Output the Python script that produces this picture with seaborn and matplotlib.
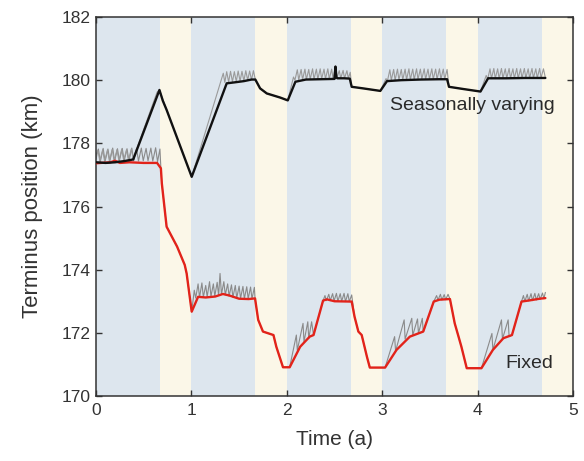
import matplotlib
matplotlib.use("Agg")
import matplotlib.pyplot as plt
import seaborn as sns
import pandas as pd

# Seasonal bands: winter (blue) and summer (cream) periods, in years
winter_start = [0.0, 1.0, 2.0, 3.0, 4.0]
winter_end = [0.67, 1.67, 2.67, 3.67, 4.67]
summer_start = [0.67, 1.67, 2.67, 3.67, 4.67]
summer_end = [1.0, 2.0, 3.0, 4.0, 5.0]

# Seasonally varying run: smoothed terminus position (km)
sv_t = [0.00, 0.10, 0.20, 0.30, 0.39, 0.665, 0.70, 0.74, 1.003, 1.37, 1.45, 1.55,
        1.63, 1.67, 1.72, 1.79, 1.93, 2.01, 2.09, 2.20, 2.35, 2.50, 2.51, 2.52,
        2.53, 2.60, 2.66, 2.68, 2.80, 2.98, 3.05, 3.20, 3.40, 3.60, 3.68, 3.70,
        3.85, 4.03, 4.11, 4.30, 4.50, 4.71]
sv_v = [177.40, 177.38, 177.40, 177.44, 177.49, 179.69, 179.35, 179.06, 176.94, 179.90, 179.93, 179.97,
        180.02, 180.02, 179.74, 179.58, 179.45, 179.36, 179.95, 180.02, 180.03, 180.04, 180.43, 180.08,
        180.06, 180.06, 180.05, 179.79, 179.74, 179.66, 179.97, 180.00, 180.02, 180.03, 180.03, 179.79,
        179.72, 179.64, 180.06, 180.06, 180.07, 180.07]

# Seasonally varying run: unsmoothed calving cycles
sv_gray_t = [0.00, 0.02, 0.04, 0.07, 0.09, 0.12, 0.14, 0.17, 0.19, 0.22, 0.24, 0.27, 0.29, 0.32,
             0.34, 0.37, 0.39, 0.64, 0.665, 0.74, 1.003, 1.334, 1.35, 1.37, 1.39, 1.41, 1.43,
             1.45, 1.47, 1.49, 1.51, 1.53, 1.55, 1.57, 1.59, 1.61, 1.63, 1.65, 1.67, 1.72,
             1.79, 1.93, 2.01, 2.07, 2.085, 2.11, 2.125, 2.15, 2.165, 2.19, 2.205, 2.23, 2.245,
             2.27, 2.285, 2.31, 2.325, 2.35, 2.365, 2.39, 2.405, 2.43, 2.445, 2.47, 2.485,
             2.51, 2.525, 2.55, 2.565, 2.59, 2.605, 2.63, 2.645, 2.665, 2.68, 2.80, 2.98,
             3.04, 3.055, 3.08, 3.095, 3.12, 3.135, 3.16, 3.175, 3.20, 3.215, 3.24, 3.255,
             3.28, 3.295, 3.32, 3.335, 3.36, 3.375, 3.40, 3.415, 3.44, 3.455, 3.48, 3.495,
             3.52, 3.535, 3.56, 3.575, 3.60, 3.615, 3.64, 3.655, 3.68, 3.70, 3.85, 4.03,
             4.09, 4.105, 4.13, 4.145, 4.17, 4.185, 4.21, 4.225, 4.25, 4.265, 4.29, 4.305,
             4.33, 4.345, 4.37, 4.385, 4.41, 4.425, 4.45, 4.465, 4.49, 4.505, 4.53, 4.545,
             4.57, 4.585, 4.61, 4.625, 4.65, 4.665, 4.69, 4.71]
sv_gray_v = [177.50, 177.78, 177.44, 177.80, 177.43, 177.79, 177.44, 177.81, 177.44, 177.80, 177.45, 177.82, 177.46, 177.80,
             177.47, 177.82, 177.52, 179.62, 179.69, 179.06, 176.94, 180.22, 179.93, 180.27, 179.94, 180.28, 179.95,
             180.27, 179.96, 180.29, 179.97, 180.28, 179.98, 180.30, 180.00, 180.29, 180.01, 180.30, 180.02, 179.74,
             179.58, 179.45, 179.36, 180.10, 180.00, 180.33, 180.01, 180.34, 180.02, 180.35, 180.02, 180.34, 180.03,
             180.36, 180.03, 180.35, 180.03, 180.36, 180.04, 180.35, 180.04, 180.36, 180.04, 180.35, 180.04,
             180.45, 180.08, 180.30, 180.06, 180.31, 180.06, 180.30, 180.06, 180.25, 179.79, 179.74, 179.66,
             180.05, 179.98, 180.33, 180.00, 180.34, 180.00, 180.35, 180.01, 180.34, 180.01, 180.35, 180.02,
             180.36, 180.02, 180.35, 180.02, 180.36, 180.03, 180.35, 180.03, 180.36, 180.03, 180.35, 180.03,
             180.36, 180.03, 180.35, 180.03, 180.36, 180.03, 180.35, 180.03, 180.34, 179.79, 179.72, 179.64,
             180.15, 180.03, 180.36, 180.05, 180.37, 180.05, 180.36, 180.05, 180.37, 180.06, 180.36, 180.06,
             180.37, 180.06, 180.36, 180.06, 180.37, 180.06, 180.36, 180.07, 180.37, 180.07, 180.36, 180.07,
             180.37, 180.07, 180.36, 180.07, 180.37, 180.07, 180.36, 180.08]

# Fixed run: smoothed terminus position (km)
fx_t = [0.00, 0.15, 0.20, 0.25, 0.35, 0.50, 0.64, 0.68, 0.69, 0.74, 0.85, 0.93, 0.95, 1.003,
        1.07, 1.15, 1.25, 1.33, 1.40, 1.50, 1.60, 1.667, 1.70, 1.75, 1.86, 1.89, 1.96, 2.03,
        2.14, 2.24, 2.28, 2.38, 2.42, 2.50, 2.68, 2.71, 2.75, 2.785, 2.84, 2.87, 3.03, 3.15,
        3.29, 3.43, 3.54, 3.60, 3.71, 3.76, 3.80, 3.83, 3.886, 4.04, 4.16, 4.27, 4.36, 4.46,
        4.55, 4.65, 4.71]
fx_v = [177.37, 177.40, 177.45, 177.38, 177.40, 177.38, 177.38, 177.21, 176.73, 175.36, 174.73, 174.15, 173.88, 172.67,
        173.14, 173.12, 173.15, 173.23, 173.18, 173.08, 173.07, 173.09, 172.41, 172.04, 171.93, 171.56, 170.91, 170.91,
        171.56, 171.88, 171.93, 173.02, 173.06, 173.00, 172.99, 172.51, 172.04, 171.93, 171.24, 170.90, 170.90, 171.46,
        171.88, 172.04, 172.99, 173.05, 173.07, 172.30, 171.88, 171.56, 170.88, 170.88, 171.46, 171.83, 171.93, 172.99,
        173.03, 173.08, 173.10]

# Fixed run: unsmoothed calving cycles
fx_gray_t = [0.00, 0.025, 0.045, 0.075, 0.095, 0.125, 0.145, 0.175, 0.195, 0.225, 0.245, 0.275, 0.295,
             0.325, 0.345, 0.375, 0.395, 0.425, 0.445, 0.475, 0.495, 0.525, 0.545, 0.575, 0.595,
             0.625, 0.645, 0.67, 0.68, 0.69, 0.74, 0.85, 0.93, 0.95, 1.003,
             1.03, 1.045, 1.07, 1.085, 1.11, 1.125, 1.15, 1.165, 1.19, 1.205, 1.23, 1.245, 1.27,
             1.285, 1.30, 1.315, 1.34, 1.355, 1.38, 1.395, 1.42, 1.435, 1.46, 1.475, 1.50, 1.515,
             1.54, 1.555, 1.58, 1.595, 1.62, 1.635, 1.66, 1.667, 1.70, 1.75, 1.86, 1.89, 1.96,
             2.03, 2.10, 2.11, 2.17, 2.18, 2.22, 2.23, 2.26, 2.28, 2.38, 2.40, 2.415, 2.44, 2.455,
             2.48, 2.495, 2.52, 2.535, 2.56, 2.575, 2.60, 2.615, 2.64, 2.655, 2.68, 2.71, 2.75,
             2.785, 2.84, 2.87, 3.03, 3.13, 3.14, 3.23, 3.24, 3.31, 3.32, 3.37, 3.38, 3.42, 3.43,
             3.54, 3.57, 3.585, 3.61, 3.625, 3.65, 3.665, 3.69, 3.71, 3.76, 3.80, 3.83, 3.886,
             4.04, 4.15, 4.16, 4.25, 4.26, 4.32, 4.33, 4.36, 4.46, 4.48, 4.495, 4.52, 4.535, 4.56,
             4.575, 4.60, 4.615, 4.64, 4.655, 4.68, 4.695, 4.71]
fx_gray_v = [177.62, 177.82, 177.42, 177.84, 177.43, 177.82, 177.44, 177.85, 177.44, 177.83, 177.45, 177.84, 177.45,
             177.83, 177.44, 177.85, 177.45, 177.84, 177.44, 177.85, 177.45, 177.84, 177.45, 177.85, 177.44,
             177.86, 177.42, 177.82, 177.21, 176.73, 175.36, 174.73, 174.15, 173.88, 172.67,
             173.35, 173.10, 173.55, 173.12, 173.58, 173.13, 173.50, 173.14, 173.62, 173.15, 173.55, 173.16, 173.60,
             173.18, 173.88, 173.22, 173.62, 173.20, 173.55, 173.16, 173.52, 173.12, 173.50, 173.10, 173.48, 173.09,
             173.47, 173.08, 173.46, 173.08, 173.45, 173.08, 173.44, 173.09, 172.41, 172.04, 171.93, 171.56, 170.91,
             170.91, 171.93, 171.45, 172.30, 171.72, 172.35, 171.82, 172.35, 171.93, 173.02, 173.18, 173.02, 173.22, 173.02,
             173.24, 173.01, 173.25, 173.00, 173.24, 173.00, 173.25, 172.99, 173.24, 172.99, 173.20, 172.51, 172.04,
             171.93, 171.24, 170.90, 170.90, 171.88, 171.42, 172.41, 171.80, 172.46, 171.92, 172.44, 171.98, 172.46, 172.04,
             172.99, 173.18, 173.04, 173.22, 173.04, 173.21, 173.05, 173.22, 173.07, 172.30, 171.88, 171.56, 170.88,
             170.88, 171.98, 171.46, 172.41, 171.80, 172.41, 171.88, 171.93, 172.99, 173.18, 173.00, 173.22, 173.01, 173.24,
             173.02, 173.25, 173.04, 173.24, 173.06, 173.26, 173.08, 173.28]

x_ticks = [0, 1, 2, 3, 4, 5]
y_ticks = [170, 172, 174, 176, 178, 180, 182]

sns.set_style("ticks")
plt.rcParams["font.family"] = ["Liberation Sans", "DejaVu Sans"]

fig = plt.figure(figsize=(5.84, 4.61), dpi=100)
ax = fig.add_axes([0.1644, 0.141, 0.8168, 0.8221])

for a, b in zip(winter_start, winter_end):
    ax.axvspan(a, b, color="#dde6ee", lw=0, zorder=0)
for a, b in zip(summer_start, summer_end):
    ax.axvspan(a, b, color="#fbf7e8", lw=0, zorder=0)

gray_sv = pd.DataFrame({"t": sv_gray_t, "v": sv_gray_v})
gray_fx = pd.DataFrame({"t": fx_gray_t, "v": fx_gray_v})
mean_sv = pd.DataFrame({"t": sv_t, "v": sv_v})
mean_fx = pd.DataFrame({"t": fx_t, "v": fx_v})

sns.lineplot(data=gray_fx, x="t", y="v", ax=ax, color="#8a8a8a", lw=0.8,
             sort=False, estimator=None, zorder=2)
sns.lineplot(data=gray_sv, x="t", y="v", ax=ax, color="#9a9a9a", lw=0.8,
             sort=False, estimator=None, zorder=2)
sns.lineplot(data=mean_fx, x="t", y="v", ax=ax, color="#e2231a", lw=1.7,
             sort=False, estimator=None, zorder=3)
sns.lineplot(data=mean_sv, x="t", y="v", ax=ax, color="#111111", lw=1.7,
             sort=False, estimator=None, zorder=4)

ax.text(3.08, 179.06, "Seasonally varying", fontsize=14, color="#2a2a2a",
        ha="left", va="baseline", zorder=5)
ax.text(4.29, 170.88, "Fixed", fontsize=14, color="#2a2a2a",
        ha="left", va="baseline", zorder=5)

ax.set_xlim(0, 5)
ax.set_ylim(170, 182)
ax.set_xticks(x_ticks)
ax.set_yticks(y_ticks)
ax.tick_params(direction="in", length=4, width=1, top=True, right=True,
               labelsize=12.5, labelcolor="#333333", color="#333333")
ax.tick_params(axis="x", pad=5)
ax.tick_params(axis="y", pad=4)
for s in ax.spines.values():
    s.set_color("#333333")
    s.set_linewidth(1.1)

ax.set_xlabel("Time (a)", fontsize=15, color="#333333", labelpad=9)
ax.set_ylabel("Terminus position (km)", fontsize=16, color="#333333", labelpad=13)

fig.savefig("out.png", dpi=100)
